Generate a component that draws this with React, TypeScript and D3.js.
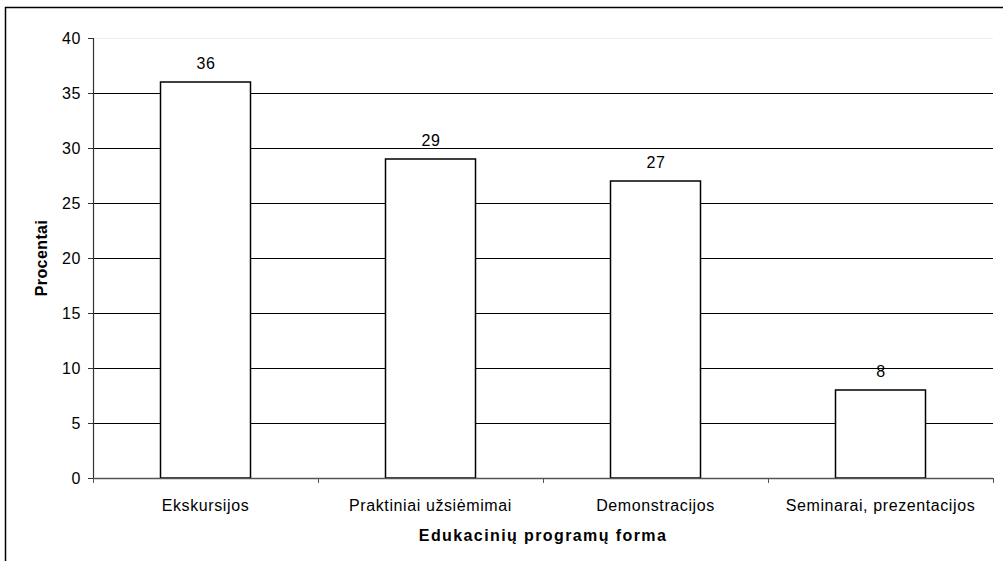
import { useEffect, useRef } from 'react';
import * as d3 from 'd3';

const categories = ['Ekskursijos', 'Praktiniai užsiėmimai', 'Demonstracijos', 'Seminarai, prezentacijos'];
const values = [36, 29, 27, 8];
const yTicks = [0, 5, 10, 15, 20, 25, 30, 35, 40];

const W = 1003;
const H = 561;
const FONT = '"Liberation Sans", Arial, sans-serif';

export default function App() {
  const ref = useRef<SVGSVGElement>(null);

  useEffect(() => {
    if (!ref.current) return;
    const svg = d3.select(ref.current);
    svg.selectAll('*').remove();

    const left = 93, right = 993, top = 38, bottom = 478;

    const x = d3.scaleBand<string>().domain(categories).range([left, right]).paddingInner(0.6).paddingOuter(0.3);
    const xOuter = d3.scaleBand<string>().domain(categories).range([left, right]);
    const y = d3.scaleLinear().domain([0, 40]).range([bottom, top]);

    // chart frame
    svg.append('rect')
      .attr('x', 5.5).attr('y', 7.5)
      .attr('width', W + 10).attr('height', H + 10)
      .attr('fill', 'white').attr('stroke', '#000').attr('stroke-width', 1.5);

    // gridlines
    svg.append('g').selectAll('line')
      .data(yTicks.filter(t => t > 0))
      .join('line')
      .attr('x1', left).attr('x2', right)
      .attr('y1', d => Math.round(y(d)) + 0.5).attr('y2', d => Math.round(y(d)) + 0.5)
      .attr('stroke', d => (d === 40 ? '#eee' : '#000'))
      .attr('stroke-width', 1);

    // bars
    svg.append('g').selectAll('rect')
      .data(values)
      .join('rect')
      .attr('x', (d, i) => x(categories[i])!)
      .attr('y', d => y(d))
      .attr('width', x.bandwidth())
      .attr('height', d => bottom - y(d))
      .attr('fill', 'white')
      .attr('stroke', '#000')
      .attr('stroke-width', 1.5);

    // value labels
    svg.append('g').selectAll('text')
      .data(values)
      .join('text')
      .attr('x', (d, i) => x(categories[i])! + x.bandwidth() / 2 + 0.5)
      .attr('y', d => y(d) - 13)
      .attr('text-anchor', 'middle')
      .attr('font-family', FONT)
      .attr('font-size', 16)
      .attr('letter-spacing', 0.6)
      .attr('fill', '#000')
      .text(d => d);

    // y axis
    const yAxis = svg.append('g');
    yAxis.append('line')
      .attr('x1', left + 0.5).attr('x2', left + 0.5)
      .attr('y1', top).attr('y2', bottom)
      .attr('stroke', '#333').attr('stroke-width', 1.2);
    yAxis.selectAll('line.tick')
      .data(yTicks)
      .join('line')
      .attr('class', 'tick')
      .attr('x1', left - 5).attr('x2', left)
      .attr('y1', d => Math.round(y(d)) + 0.5).attr('y2', d => Math.round(y(d)) + 0.5)
      .attr('stroke', '#333');
    yAxis.selectAll('text')
      .data(yTicks)
      .join('text')
      .attr('x', left - 12)
      .attr('y', d => y(d) + 6)
      .attr('text-anchor', 'end')
      .attr('font-family', FONT)
      .attr('font-size', 16)
      .attr('letter-spacing', 0.6)
      .text(d => d);

    // x axis
    const xAxis = svg.append('g');
    xAxis.append('line')
      .attr('x1', left).attr('x2', right)
      .attr('y1', bottom + 0.5).attr('y2', bottom + 0.5)
      .attr('stroke', '#555').attr('stroke-width', 1.5);
    const bounds = categories.map(c => xOuter(c)!).concat([right]);
    xAxis.selectAll('line.tick')
      .data(bounds)
      .join('line')
      .attr('class', 'tick')
      .attr('x1', d => Math.round(d) + 0.5).attr('x2', d => Math.round(d) + 0.5)
      .attr('y1', bottom).attr('y2', bottom + 5)
      .attr('stroke', '#555');
    xAxis.selectAll('text')
      .data(categories)
      .join('text')
      .attr('x', d => xOuter(d)! + xOuter.bandwidth() / 2)
      .attr('y', bottom + 33)
      .attr('text-anchor', 'middle')
      .attr('font-family', FONT)
      .attr('font-size', 16)
      .attr('letter-spacing', 0.6)
      .text(d => d);

    // axis titles
    svg.append('text')
      .attr('x', (left + right) / 2)
      .attr('y', bottom + 63)
      .attr('text-anchor', 'middle')
      .attr('font-family', FONT)
      .attr('font-size', 16)
      .attr('font-weight', 'bold')
      .attr('letter-spacing', 1.4)
      .text('Edukacinių programų forma');

    svg.append('text')
      .attr('transform', `translate(47,${(top + bottom) / 2}) rotate(-90)`)
      .attr('text-anchor', 'middle')
      .attr('font-family', FONT)
      .attr('font-size', 16)
      .attr('font-weight', 'bold')
      .attr('letter-spacing', 0.4)
      .text('Procentai');
  }, []);

  return (
    <div style={{ position: 'fixed', left: 0, top: 0, width: W, height: H, background: 'white' }}>
      <svg ref={ref} width={W} height={H} style={{ display: 'block' }} />
    </div>
  );
}
